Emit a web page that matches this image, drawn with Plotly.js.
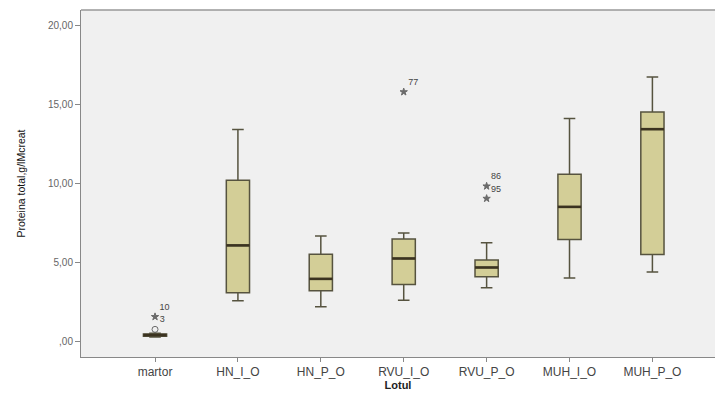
<!DOCTYPE html>
<html>
<head>
<meta charset="utf-8">
<script src="https://cdn.plot.ly/plotly-3.0.1.min.js"></script>
<style>html,body{margin:0;padding:0;background:#fff;}#chart{width:719px;height:394px;}</style>
</head>
<body>
<div id="chart"></div>
<script>
// ---- data ----
const categories = ['martor', 'HN_I_O', 'HN_P_O', 'RVU_I_O', 'RVU_P_O', 'MUH_I_O', 'MUH_P_O'];
const lowerWhisker = [0.25, 2.55, 2.17, 2.58, 3.37, 4.00, 4.37];
const q1Values     = [0.30, 3.06, 3.18, 3.59, 4.07, 6.43, 5.49];
const medianValues = [0.38, 6.06, 3.94, 5.23, 4.66, 8.50, 13.42];
const q3Values     = [0.45, 10.19, 5.50, 6.46, 5.13, 10.57, 14.51];
const upperWhisker = [0.50, 13.40, 6.65, 6.85, 6.22, 14.09, 16.73];

const outlierGroup = [0, 0, 3, 4, 4];
const outlierValue = [0.74, 1.54, 15.78, 9.81, 9.03];
const outlierLabel = ['3', '10', '77', '86', '95'];
const outlierKind  = ['o', '*', '*', '*', '*'];

const yTickValues = [0, 5, 10, 15, 20];
const yTickLabels = [',00', '5,00', '10,00', '15,00', '20,00'];

// ---- drawing ----
const idx = categories.map((c, i) => i);
const boxW = 0.28;
const fill = '#d3ce97';
const edge = '#56533f';

const boxTrace = {
  type: 'box',
  x: idx,
  q1: q1Values,
  median: medianValues,
  q3: q3Values,
  lowerfence: lowerWhisker,
  upperfence: upperWhisker,
  width: boxW,
  whiskerwidth: 0.5,
  fillcolor: fill,
  line: {color: edge, width: 1.5},
  boxpoints: false,
  hoverinfo: 'skip',
  showlegend: false
};

// thick median bars
const mx = [], my = [];
idx.forEach(i => {
  mx.push(i - boxW / 2, i + boxW / 2, null);
  my.push(medianValues[i], medianValues[i], null);
});
const medianTrace = {
  type: 'scatter', mode: 'lines', x: mx, y: my,
  line: {color: '#3b3320', width: 2.6},
  hoverinfo: 'skip', showlegend: false
};

const outlierTrace = {
  type: 'scatter', mode: 'markers+text',
  x: outlierGroup, y: outlierValue,
  text: outlierLabel,
  textposition: 'top right',
  textfont: {family: 'Liberation Sans, Arial, sans-serif', size: 9, color: '#444'},
  marker: {
    symbol: outlierKind.map(k => k === 'o' ? 'circle-open' : 'star'),
    size: outlierKind.map(k => k === 'o' ? 6 : 5.5),
    color: '#333',
    line: {color: '#333', width: 1}
  },
  cliponaxis: false,
  hoverinfo: 'skip', showlegend: false
};

const layout = {
  width: 719, height: 394,
  margin: {l: 81, r: 4, t: 10, b: 37},
  paper_bgcolor: '#ffffff',
  plot_bgcolor: '#f0f0f0',
  font: {family: 'Liberation Sans, Arial, sans-serif', color: '#333'},
  showlegend: false,
  xaxis: {
    range: [-0.893, 6.755],
    tickmode: 'array', tickvals: idx, ticktext: categories,
    ticks: 'outside', ticklen: 4, tickcolor: '#888', tickwidth: 1,
    showline: true, linecolor: '#888', linewidth: 1, mirror: false,
    showgrid: false, zeroline: false,
    tickfont: {size: 12, color: '#444'},
    title: {text: '<b>Lotul</b>', font: {size: 11, color: '#222'}, standoff: 1}
  },
  yaxis: {
    range: [-1.01, 20.97],
    tickmode: 'array', tickvals: yTickValues, ticktext: yTickLabels,
    ticks: 'outside', ticklen: 5, tickcolor: '#888', tickwidth: 1,
    showline: true, linecolor: '#888', linewidth: 1, mirror: false,
    showgrid: false, zeroline: false,
    tickfont: {size: 10, color: '#666'},
    title: {text: 'Proteina total,g/lMcreat', font: {size: 10.5, color: '#111'}, standoff: 20}
  },
  shapes: [{type: 'line', xref: 'paper', yref: 'paper', x0: 0, x1: 1, y0: 1, y1: 1, line: {color: '#999', width: 1.5}}]
};

Plotly.newPlot('chart', [boxTrace, medianTrace, outlierTrace], layout, {displayModeBar: false, staticPlot: true});
</script>
</body>
</html>
